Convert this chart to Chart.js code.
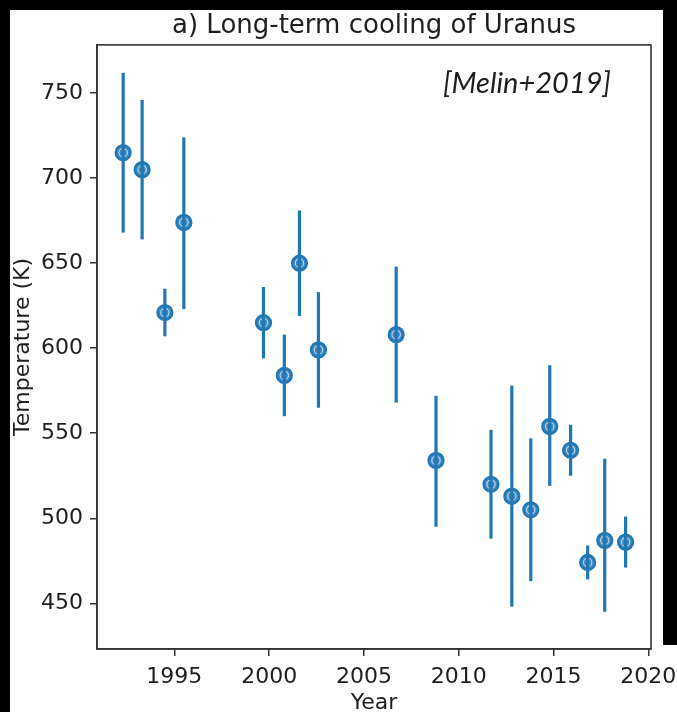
<!DOCTYPE html>
<html>
<head>
<meta charset="utf-8">
<title>Long-term cooling of Uranus</title>
<script src="https://cdn.jsdelivr.net/npm/chart.js@4.4.1/dist/chart.umd.min.js"></script>
<style>
  html, body { margin: 0; padding: 0; background: #000; }
  #wrap { position: relative; width: 677px; height: 712px; overflow: hidden; background: #000; }
  #plot { position: absolute; left: 10px; top: 10px; background: #fff; }
  #edge-right { position: absolute; left: 663px; top: 0; width: 14px; height: 645px; background: #000; }
</style>
</head>
<body>
<div id="wrap">
  <canvas id="plot" width="667" height="702"></canvas>
  <div id="edge-right"></div>
</div>
<script>
// H3+ temperatures per observing epoch, with the low / high ends of each error bar
const years    = [1992.3, 1993.3, 1994.5, 1995.5, 1999.7, 2000.8, 2001.6, 2002.6, 2006.7,
                  2008.8, 2011.7, 2012.8, 2013.8, 2014.8, 2015.9, 2016.8, 2017.7, 2018.8];
const temps    = [715, 705, 621, 674, 615, 584, 650, 599, 608,
                  534, 520, 513, 505, 554, 540, 474, 487, 486];
const tempHigh = [762, 746, 635, 724, 636, 608, 681, 633, 648,
                  572, 552, 578, 547, 590, 555, 484, 535, 501];
const tempLow  = [668, 664, 607, 623, 594, 560, 619, 565, 568,
                  495, 488, 448, 463, 519, 525, 464, 445, 471];

const xTicks = [1995, 2000, 2005, 2010, 2015, 2020];
const yTicks = [450, 500, 550, 600, 650, 700, 750];

const BLUE = '#1f77b4';
const INK = '#1e1e1e';
const FONT = "'DejaVu Sans', sans-serif";

// error bars, the frame and the citation are painted on top of the scatter
const extras = {
  id: 'extras',
  afterDatasetsDraw(chart) {
    const { ctx, chartArea, scales: { x, y } } = chart;
    ctx.save();

    // light ring inside each marker
    ctx.strokeStyle = 'rgba(255,255,255,0.65)';
    ctx.lineWidth = 1.2;
    years.forEach((yr, i) => {
      ctx.beginPath();
      ctx.arc(x.getPixelForValue(yr), y.getPixelForValue(temps[i]), 4.2, 0, Math.PI * 2);
      ctx.stroke();
    });

    ctx.strokeStyle = BLUE;
    ctx.lineWidth = 3.2;
    years.forEach((yr, i) => {
      const px = x.getPixelForValue(yr);
      ctx.beginPath();
      ctx.moveTo(px, y.getPixelForValue(tempLow[i]));
      ctx.lineTo(px, y.getPixelForValue(tempHigh[i]));
      ctx.stroke();
    });

    ctx.strokeStyle = '#333';
    ctx.lineWidth = 1.6;
    ctx.strokeRect(chartArea.left, chartArea.top, chartArea.right - chartArea.left, chartArea.bottom - chartArea.top);

    ctx.fillStyle = INK;
    ctx.font = "italic 29px Lato, sans-serif";
    ctx.textAlign = 'right';
    ctx.textBaseline = 'middle';
    ctx.fillText('[Melin+2019]', chartArea.right - 40, chartArea.top + 39);
    ctx.restore();
  }
};

new Chart(document.getElementById('plot'), {
  type: 'scatter',
  data: {
    datasets: [{
      data: years.map((yr, i) => ({ x: yr, y: temps[i] })),
      pointStyle: 'circle',
      pointRadius: 7.5,
      pointHoverRadius: 7.5,
      borderWidth: 2.2,
      borderColor: BLUE,
      backgroundColor: '#3a86c0'
    }]
  },
  options: {
    responsive: false,
    animation: false,
    events: [],
    layout: { padding: { left: 0, right: 26, top: 0, bottom: 0 } },
    plugins: {
      legend: { display: false },
      tooltip: { enabled: false },
      title: {
        display: true,
        text: 'a) Long-term cooling of Uranus',
        fullSize: false,
        color: INK,
        font: { family: FONT, size: 26, weight: 'normal', lineHeight: 1.15 },
        padding: { top: 1, bottom: 4 }
      }
    },
    scales: {
      x: {
        type: 'linear',
        min: 1990.92,
        max: 2020.14,
        afterBuildTicks: s => { s.ticks = xTicks.map(v => ({ value: v })); },
        // keep the plot frame fixed; the last label may run into the right margin
        afterFit: s => { s.height = 63; s.paddingLeft = 0; s.paddingRight = 0; },
        ticks: { color: INK, font: { family: FONT, size: 22 }, padding: 8, maxRotation: 0, callback: v => String(v) },
        grid: { drawOnChartArea: false, drawTicks: true, tickLength: 7, color: '#333', lineWidth: 1.5 },
        border: { display: true, color: '#333', width: 1.6 },
        title: { display: true, text: 'Year', color: INK, font: { family: FONT, size: 22, lineHeight: 0.8 }, padding: 0 }
      },
      y: {
        min: 423.1,
        max: 778.4,
        afterBuildTicks: s => { s.ticks = yTicks.map(v => ({ value: v })); },
        afterFit: s => { s.width = 87; s.paddingTop = 0; s.paddingBottom = 0; },
        ticks: { color: INK, font: { family: FONT, size: 22 }, padding: 7 },
        grid: { drawOnChartArea: false, drawTicks: true, tickLength: 7, color: '#333', lineWidth: 1.5 },
        border: { display: true, color: '#333', width: 1.6 },
        title: { display: true, text: 'Temperature (K)', color: INK, font: { family: FONT, size: 22, lineHeight: 1.2 }, padding: 0 }
      }
    }
  },
  plugins: [extras]
});
</script>
</body>
</html>
